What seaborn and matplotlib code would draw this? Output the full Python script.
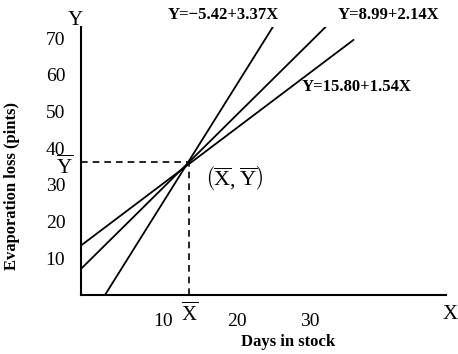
import pandas as pd
import seaborn as sns
import matplotlib.pyplot as plt

# regression lines, endpoints
line_names = ["Y=\u22125.42+3.37X", "Y=8.99+2.14X", "Y=15.80+1.54X"]
line_x = [[2.05, 25.5], [-1.27, 33.6], [-1.27, 35.9]]
line_y = [[0.0, 74.9], [7.0, 76.0], [13.4, 69.5]]

# mean point
x_bar = 13.5
y_bar = 36.3

x_ticks = [10, 20, 30]
y_ticks = [10, 20, 30, 40, 50, 60, 70]

rows = []
for name, xs, ys in zip(line_names, line_x, line_y):
    for xv, yv in zip(xs, ys):
        rows.append({"line": name, "days": xv, "loss": yv})
df = pd.DataFrame(rows)

sns.set_style("white")
plt.rcParams["font.family"] = ["Liberation Serif", "DejaVu Serif"]
plt.rcParams["mathtext.fontset"] = "custom"
plt.rcParams["mathtext.rm"] = "Liberation Serif"
plt.rcParams["text.color"] = "black"
plt.rcParams["xtick.color"] = "black"
plt.rcParams["ytick.color"] = "black"

fig = plt.figure(figsize=(4.58, 3.54), dpi=100)
ax = fig.add_axes([0.176, 0.1667, 0.798, 0.757])

sns.lineplot(data=df, x="days", y="loss", hue="line", units="line", estimator=None,
             palette=["black"] * 3, linewidth=1.3, legend=False, ax=ax)

# dashed guides to the mean point
ax.plot([-1.27, x_bar], [y_bar, y_bar], ls=(0, (4, 3)), color="black", lw=1.2)
ax.plot([x_bar, x_bar], [0, y_bar], ls=(0, (4, 3)), color="black", lw=1.2)

ax.set_xlim(-1.27, 48.5)
ax.set_ylim(0, 73)
ax.set_xticks(x_ticks)
ax.set_yticks(y_ticks)
ax.tick_params(axis="y", direction="in", length=10, width=1.3, pad=11, labelsize=14)
ax.tick_params(axis="x", length=0, pad=13, labelsize=14)
ax.set_xlabel("")
ax.set_ylabel("")
sns.despine(ax=ax)
for s in ["left", "bottom"]:
    ax.spines[s].set_color("black")
    ax.spines[s].set_linewidth(1.5)

bold = dict(fontsize=12, fontweight="bold", va="center", ha="left")
ax.text(10.6, 76.3, line_names[0], **bold)
ax.text(33.7, 76.3, line_names[1], **bold)
ax.text(28.8, 56.7, line_names[2], **bold)

ax.text(15.7, 31.9, r"$\left(\overline{\mathrm{X}},\overline{\mathrm{Y}}\right)$",
        fontsize=16, va="center", ha="left")
ax.text(-3.5, 34.8, r"$\overline{\mathrm{Y}}$", fontsize=15, va="center", ha="center")
ax.text(x_bar, -5.2, r"$\overline{\mathrm{X}}$", fontsize=15, va="center", ha="center")
ax.text(-2.05, 74.9, "Y", fontsize=15, va="center", ha="center")
ax.text(49.1, -5.2, "X", fontsize=15, va="center", ha="center")

fig.text(12 / 458, 1 - 186 / 354, "Evaporation loss (pints)", rotation=90,
         fontsize=12, fontweight="bold", ha="center", va="center")
fig.text(288 / 458, 1 - 342 / 354, "Days in stock",
         fontsize=12, fontweight="bold", ha="center", va="center")

fig.savefig("out.png", dpi=100)
